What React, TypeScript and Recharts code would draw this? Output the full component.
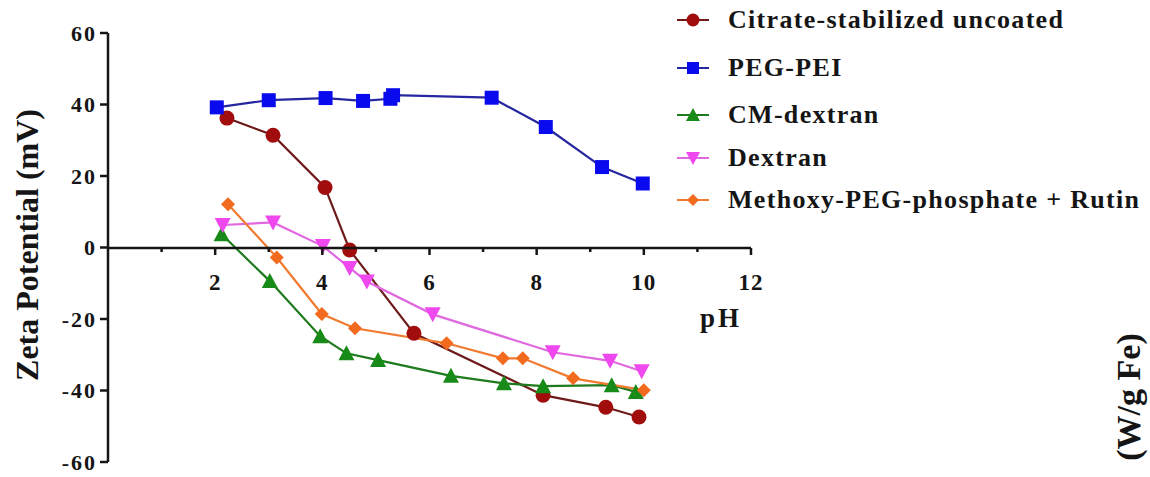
import React from "react";
import { LineChart, Line, XAxis, YAxis, Legend } from "recharts";

const FONT = '"Liberation Serif", "Times New Roman", serif';
const INK = "#151515";

// values (pH, mV)
const citrateX = [2.22, 3.08, 4.05, 4.51, 5.71, 8.12, 9.29, 9.91];
const citrateY = [36.2, 31.4, 16.8, -0.7, -24.0, -41.3, -44.7, -47.4];

const pegPeiX = [2.03, 3.0, 4.06, 4.76, 5.27, 5.32, 7.16, 8.17, 9.22, 9.98];
const pegPeiY = [39.2, 41.2, 41.8, 41.0, 41.6, 42.6, 41.9, 33.7, 22.5, 17.9];

const cmDextranX = [2.12, 3.02, 3.96, 4.45, 5.04, 6.4, 7.39, 8.12, 9.4, 9.85];
const cmDextranY = [3.7, -9.4, -24.8, -29.6, -31.5, -35.9, -38.0, -38.8, -38.5, -40.4];

const dextranX = [2.14, 3.08, 4.01, 4.51, 4.83, 6.06, 8.3, 9.37, 9.96];
const dextranY = [6.3, 7.0, 0.4, -5.7, -9.5, -18.7, -29.3, -31.7, -34.6];

const methoxyX = [2.24, 3.15, 3.99, 4.61, 6.32, 7.37, 7.74, 8.68, 10.0];
const methoxyY = [12.1, -2.8, -18.6, -22.6, -26.8, -31.0, -31.0, -36.6, -39.9];

const xTicks = [0, 1, 2, 3, 4, 5, 6, 7, 8, 9, 10, 11, 12];
const yTicks = [-60, -40, -20, 0, 20, 40, 60];

type Pt = { x: number; y: number };
const zip = (xs: number[], ys: number[]): Pt[] => xs.map((x, i) => ({ x, y: ys[i] }));

type Shape = "circle" | "square" | "triangle" | "triangleDown" | "diamond";

const seriesList: { name: string; data: Pt[]; stroke: string; fill: string; shape: Shape }[] = [
  { name: "Citrate-stabilized uncoated", data: zip(citrateX, citrateY), stroke: "#6e1a1a", fill: "#a10d0d", shape: "circle" },
  { name: "PEG-PEI", data: zip(pegPeiX, pegPeiY), stroke: "#2626a0", fill: "#0a0aee", shape: "square" },
  { name: "CM-dextran", data: zip(cmDextranX, cmDextranY), stroke: "#1d7a1d", fill: "#178a17", shape: "triangle" },
  { name: "Dextran", data: zip(dextranX, dextranY), stroke: "#e068e0", fill: "#ee48ee", shape: "triangleDown" },
  { name: "Methoxy-PEG-phosphate + Rutin", data: zip(methoxyX, methoxyY), stroke: "#f07a30", fill: "#f26a1e", shape: "diamond" },
];

// legend row heights
const legendRows = [48, 48, 45, 42, 42];

const axisFrame = [{ x: 0, y: 0 }, { x: 12, y: 0 }];

function Marker({ cx, cy, shape, fill, s = 14 }: { cx: number; cy: number; shape: Shape; fill: string; s?: number }) {
  const h = s / 2;
  switch (shape) {
    case "circle":
      return <circle cx={cx} cy={cy} r={h + 0.5} fill={fill} />;
    case "square":
      return <rect x={cx - h} y={cy - h} width={s} height={s} fill={fill} />;
    case "triangle":
      return <polygon points={`${cx},${cy - h - 1} ${cx + h + 1},${cy + h} ${cx - h - 1},${cy + h}`} fill={fill} />;
    case "triangleDown":
      return <polygon points={`${cx},${cy + h + 1} ${cx + h + 1},${cy - h} ${cx - h - 1},${cy - h}`} fill={fill} />;
    default:
      return <polygon points={`${cx},${cy - h} ${cx + h},${cy} ${cx},${cy + h} ${cx - h},${cy}`} fill={fill} />;
  }
}

const XTick = (props: any) => {
  const { x, y, payload } = props;
  const v = payload.value;
  if (v === 0) return null;
  const major = v % 2 === 0;
  return (
    <g>
      <line x1={x} x2={x} y1={y} y2={y + (major ? 7 : 4)} stroke={INK} strokeWidth={2.5} />
      {major && (
        <text x={x} y={y + 42} textAnchor="middle" fontFamily={FONT} fontSize={23} fontWeight={700} letterSpacing={1} fill={INK}>
          {v}
        </text>
      )}
    </g>
  );
};

const renderLegend = () => (
  <div style={{ fontFamily: FONT, color: INK }}>
    {seriesList.map((s, i) => (
      <div key={s.name} style={{ display: "flex", alignItems: "center", height: legendRows[i] }}>
        <svg width={36} height={20}>
          <line x1={1} y1={10} x2={33} y2={10} stroke={s.stroke} strokeWidth={2} />
          <Marker cx={17} cy={10} shape={s.shape} fill={s.fill} s={12} />
        </svg>
        <span style={{ marginLeft: 16, fontSize: 26, fontWeight: 700, letterSpacing: 1.3, whiteSpace: "nowrap" }}>{s.name}</span>
      </div>
    ))}
  </div>
);

export default function App() {
  return (
    <div style={{ position: "absolute", left: 0, top: 0, width: 1150, height: 477, background: "#fff" }}>
      <div style={{ position: "absolute", left: 0, top: 0 }}>
        <LineChart width={1150} height={477} margin={{ top: 33, right: 399, bottom: 15, left: 48 }}>
          <XAxis type="number" dataKey="x" domain={[0, 12]} hide allowDataOverflow />
          <YAxis
            type="number"
            domain={[-60, 60]}
            ticks={yTicks}
            interval={0}
            width={60}
            axisLine={{ stroke: INK, strokeWidth: 2.5 }}
            tickLine={{ stroke: INK, strokeWidth: 2.5 }}
            tickSize={8}
            tickMargin={3}
            tick={{ fontFamily: FONT, fontSize: 22, fontWeight: 700, fill: INK, letterSpacing: 2 }}
            label={{
              content: () => (
                <text transform="translate(38,245) rotate(-90)" textAnchor="middle" fontFamily={FONT} fontSize={32} fontWeight={700} fill={INK}>
                  Zeta Potential (mV)
                </text>
              ),
            }}
          />
          {seriesList.map((s) => (
            <Line
              key={s.name}
              data={s.data}
              dataKey="y"
              name={s.name}
              type="linear"
              stroke={s.stroke}
              strokeWidth={2.2}
              isAnimationActive={false}
              dot={(p: any) => <Marker key={`${s.name}-${p.index}`} cx={p.cx} cy={p.cy} shape={s.shape} fill={s.fill} />}
            />
          ))}
          <Legend
            layout="vertical"
            align="center"
            verticalAlign="middle"
            content={renderLegend}
            wrapperStyle={{ position: "absolute", left: 676, top: -4, width: 474, height: 240 }}
          />
          <text x={700} y={327} fontFamily={FONT} fontSize={27} fontWeight={700} letterSpacing={3} fill={INK}>
            pH
          </text>
          <text transform="translate(1140,397) rotate(-90)" textAnchor="middle" fontFamily={FONT} fontSize={34} fontWeight={700} fill={INK}>
            (W/g Fe)
          </text>
        </LineChart>
      </div>
      <div style={{ position: "absolute", left: 0, top: 0, pointerEvents: "none" }}>
        <LineChart width={1150} height={300} data={axisFrame} margin={{ top: 33, right: 399, bottom: 0, left: 108 }}>
          <XAxis
            type="number"
            dataKey="x"
            domain={[0, 12]}
            ticks={xTicks}
            interval={0}
            height={52}
            allowDataOverflow
            axisLine={{ stroke: INK, strokeWidth: 2.5 }}
            tickLine={false}
            tickSize={0}
            tickMargin={0}
            tick={<XTick />}
          />
          <YAxis hide domain={[-1, 1]} />
          <Line dataKey="y" stroke="none" dot={false} isAnimationActive={false} />
        </LineChart>
      </div>
    </div>
  );
}
